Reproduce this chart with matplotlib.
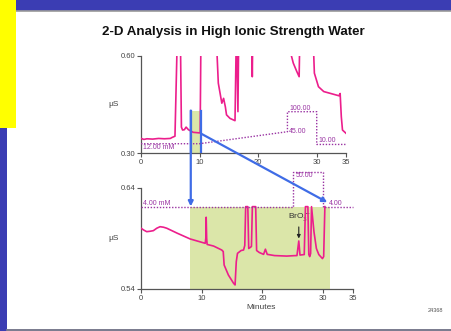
import matplotlib
matplotlib.use("Agg")
import matplotlib.pyplot as plt
from matplotlib.patches import Rectangle, ConnectionPatch
from matplotlib.lines import Line2D

# ---------------- data ----------------
# top chromatogram (first dimension), minutes vs uS (values > 0.60 are off scale)
top_t = [0, 0.5, 1.0, 2.0, 3.0, 4.0, 5.0, 5.3, 5.8, 6.25, 6.7, 6.9, 7.1, 7.4, 7.7,
         8.1, 8.5, 8.9, 9.5, 10.1, 10.25, 12.75, 13.2, 13.8, 14.1, 14.4, 14.6, 15.2,
         16.05, 16.3, 16.55, 16.7, 18.9, 19.0, 19.1, 25.4, 26.0, 26.6, 27.0, 27.15,
         29.3, 29.6, 30.3, 31.2, 32.8, 33.8, 34.0, 34.2, 34.4, 35.0]
top_y = [0.345, 0.342, 0.344, 0.343, 0.345, 0.344, 0.345, 0.348, 0.352, 0.70, 0.70,
         0.38, 0.371, 0.372, 0.380, 0.372, 0.368, 0.364, 0.363, 0.362, 0.70, 0.70,
         0.516, 0.454, 0.469, 0.443, 0.418, 0.407, 0.400, 0.70, 0.428, 0.70, 0.70,
         0.536, 0.70, 0.62, 0.578, 0.552, 0.536, 0.70, 0.70, 0.547, 0.505, 0.490,
         0.482, 0.477, 0.484, 0.412, 0.371, 0.361]

# bottom chromatogram (second dimension)
bot_t = [0, 0.5, 0.94, 1.5, 2.04, 2.6, 3.14, 3.7, 4.24, 6.0, 8.1, 10.58, 10.68,
         10.74, 10.82, 10.9, 11.96, 13.3, 13.55, 13.7, 14.4, 15.26, 15.5, 15.7, 15.9,
         16.5, 16.9, 17.1, 17.25, 17.6, 17.75, 18.0, 18.2, 18.35, 18.9, 19.05, 19.5,
         20.2, 20.5, 20.8, 22.0, 24.0, 25.2, 25.7, 26.0, 26.2, 26.9, 27.1, 27.5, 27.65,
         27.8, 27.95, 28.1, 28.5, 28.9, 29.3, 29.9, 30.1, 30.3]
bot_y = [0.600, 0.598, 0.5966, 0.597, 0.5976, 0.600, 0.6015, 0.601, 0.600, 0.595,
         0.5894, 0.5851, 0.590, 0.6108, 0.590, 0.584, 0.5824, 0.5785, 0.577, 0.5637,
         0.5538, 0.5456, 0.544, 0.567, 0.5752, 0.578, 0.5785, 0.583, 0.6213, 0.6213,
         0.580, 0.581, 0.582, 0.6213, 0.6213, 0.578, 0.576, 0.5742, 0.5793, 0.5742,
         0.573, 0.5725, 0.5729, 0.573, 0.5874, 0.5735, 0.574, 0.6213, 0.6213, 0.574,
         0.572, 0.575, 0.6213, 0.5966, 0.580, 0.574, 0.570, 0.572, 0.6213]

# eluent gradients (mM)
grad1_t = [0, 10, 25, 25, 30, 30, 35]
grad1_c = [12, 12, 45, 100, 100, 10, 10]
grad2_t = [0, 25.1, 25.1, 30.0, 30.0, 35.0]
grad2_c = [4, 4, 50, 50, 4, 4]

# heart-cut windows
cut1_t = [8.7, 10.35]
cut1_y = [0.30, 0.431]
cut2_t = [8.1, 31.2]
cut2_y = [0.54, 0.6207]

xticks = [0, 10, 20, 30, 35]

# ---------------- style ----------------
PINK = '#ec1e8c'
PURPLE = '#9a34a3'
BLUE = '#3f6ce6'
GREEN = '#dbe6a9'
AX = '#555555'
NARROW = ['Liberation Sans Narrow', 'Liberation Sans', 'DejaVu Sans']

W, H = 451, 331
fig = plt.figure(figsize=(W / 100, H / 100), dpi=100)
fig.patch.set_facecolor('#3b3db3')

def fx(px):
    return px / W

def fy(py):
    return 1 - py / H

# white slide panel
fig.add_artist(Rectangle((fx(7), fy(329)), 1, (329 - 10.5) / H, transform=fig.transFigure,
                         facecolor='white', edgecolor='none', zorder=0))
fig.add_artist(Line2D([fx(7), 1], [fy(10.5), fy(10.5)], transform=fig.transFigure,
                      color='#9a9a9a', lw=1.2, zorder=1))
fig.add_artist(Line2D([fx(7), 1], [fy(329.5), fy(329.5)], transform=fig.transFigure,
                      color='#8a8a8a', lw=1.2, zorder=1))
fig.add_artist(Rectangle((0, fy(127.5)), fx(16), 127.5 / H, transform=fig.transFigure,
                         facecolor='#ffff00', edgecolor='none', zorder=2))

fig.text(fx(233.5), fy(32), '2-D Analysis in High Ionic Strength Water',
         ha='center', va='center', fontsize=9.6, fontweight='bold',
         family=NARROW, color='#111111')

ax1 = fig.add_axes([fx(141), fy(153), (346 - 141) / W, (153 - 56) / H])
ax2 = fig.add_axes([fx(141), fy(289), (353.4 - 141) / W, (289 - 187.7) / H])

for ax, (y0, y1) in ((ax1, (0.30, 0.60)), (ax2, (0.54, 0.64))):
    ax.set_facecolor('none')
    ax.set_xlim(0, 35)
    ax.set_ylim(y0, y1)
    for s in ('top', 'right'):
        ax.spines[s].set_visible(False)
    for s in ('left', 'bottom'):
        ax.spines[s].set_color(AX)
        ax.spines[s].set_linewidth(0.9)
    ax.set_xticks(xticks)
    ax.set_xticklabels([str(v) for v in xticks])
    ax.set_yticks([y0, y1])
    ax.set_yticklabels([f'{y0:.2f}', f'{y1:.2f}'])
    ax.tick_params(length=3, width=0.8, color=AX, labelcolor='#444444',
                   labelsize=5.5, pad=1)
    for lab in ax.get_xticklabels() + ax.get_yticklabels():
        lab.set_family(NARROW)
    ax.set_ylabel('µS', rotation=0, fontsize=6, color='#444444', family=NARROW,
                  labelpad=5, va='center')

# heart-cut shading
ax1.fill_between(cut1_t, cut1_y[0], cut1_y[1], color=GREEN, lw=0, zorder=1)
ax2.fill_between(cut2_t, cut2_y[0], cut2_y[1], color=GREEN, lw=0, zorder=1)

# traces
ax1.plot(top_t, top_y, color=PINK, lw=1.2, zorder=4, solid_joinstyle='round')
ax2.plot(bot_t, bot_y, color=PINK, lw=1.2, zorder=4, solid_joinstyle='round')

# gradients on hidden twin axes
g1 = ax1.twinx()
g1.set_ylim(-13.5, 253)
g2 = ax2.twinx()
g2.set_ylim(-103.4, 29.8)
for g in (g1, g2):
    g.set_axis_off()
g1.plot(grad1_t, grad1_c, color=PURPLE, lw=1.0, ls=(0, (1, 1.2)), zorder=3)
g2.plot(grad2_t, grad2_c, color=PURPLE, lw=1.0, ls=(0, (1, 1.2)), zorder=3,
        clip_on=False)

tk = dict(color=PURPLE, fontsize=5, family=NARROW)
g1.text(0.3, 12, '12.00 mM', va='top', ha='left', **tk)
g1.text(25.3, 45, '45.00', va='center', ha='left', **tk)
g1.text(25.3, 100, '100.00', va='bottom', ha='left', **tk)
g1.text(30.3, 10, '10.00', va='bottom', ha='left', **tk)
g2.text(0.3, 4, '4.00 mM', va='bottom', ha='left', **tk)
g2.text(25.5, 50, '50.00', va='top', ha='left', **tk)
g2.text(31.0, 4, '4.00', va='bottom', ha='left', **tk)

# blue heart-cut markers
ax1.plot([10.25, 10.25], [0.30, 0.431], color=BLUE, lw=1.6, zorder=5)
ax1.plot([8.5, 8.5], [0.30, 0.431], color=BLUE, lw=1.6, zorder=5)
c1 = ConnectionPatch(xyA=(8.5, 0.431), coordsA=ax1.transData,
                     xyB=(8.2, 0.6215), coordsB=ax2.transData,
                     arrowstyle='-|>', color=BLUE, lw=1.6, mutation_scale=7, zorder=6)
c2 = ConnectionPatch(xyA=(10.25, 0.360), coordsA=ax1.transData,
                     xyB=(30.7, 0.6256), coordsB=ax2.transData,
                     arrowstyle='-|>', color=BLUE, lw=1.6, mutation_scale=7, zorder=6)
fig.add_artist(c1)
fig.add_artist(c2)

# bromate annotation
ax2.annotate('BrO$_3^-$', xy=(26.0, 0.5885), xytext=(26.0, 0.604),
             ha='center', va='bottom', fontsize=6, color='#333333', family=NARROW,
             arrowprops=dict(arrowstyle='-|>', color='#222222', lw=0.8,
                             mutation_scale=5, shrinkA=0, shrinkB=1))

ax2.set_xlabel('Minutes', fontsize=6, color='#444444', family=NARROW)
ax2.xaxis.set_label_coords(0.563, -0.15)

fig.text(fx(435), fy(311), '24368', ha='center', va='center', fontsize=4,
         color='#555555', family=NARROW)

fig.savefig('out.png', dpi=100, facecolor=fig.get_facecolor())
